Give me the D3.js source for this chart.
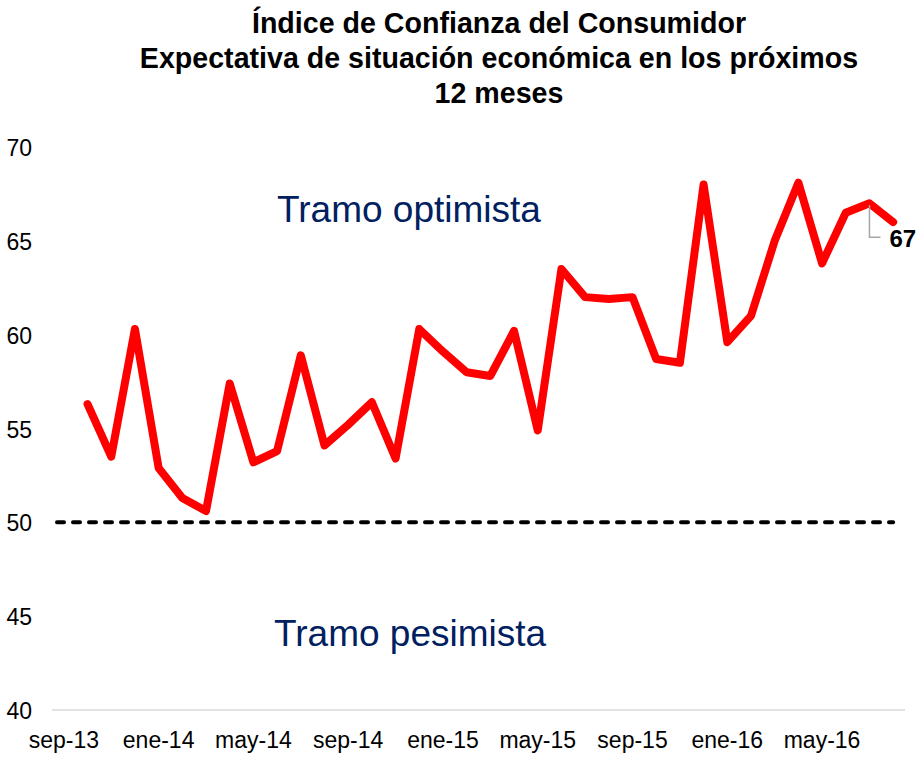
<!DOCTYPE html>
<html>
<head>
<meta charset="utf-8">
<script src="https://cdn.jsdelivr.net/npm/d3@7"></script>
<style>
  body { margin: 0; background: #fff; }
  text { font-family: "Liberation Sans", Arial, sans-serif; }
</style>
</head>
<body>
<div id="chart"></div>
<script>
// data: monthly index, oct-13 .. ago-16 (month 0 = sep-13)
var values = [56.3, 53.5, 60.3, 52.9, 51.3, 50.6, 57.4, 53.2, 53.8, 58.9, 54.1, 55.2,
              56.4, 53.4, 60.3, 59.1, 58.0, 57.8, 60.2, 54.9, 63.5, 62.0, 61.9, 62.0,
              58.7, 58.5, 68.0, 59.6, 61.0, 65.0, 68.1, 63.8, 66.5, 67.0, 66.0];
var firstMonth = 1; // oct-13
var tickMonths = [0, 4, 8, 12, 16, 20, 24, 28, 32];
var tickLabels = ["sep-13", "ene-14", "may-14", "sep-14", "ene-15", "may-15", "sep-15", "ene-16", "may-16"];
var yTicks = [40, 45, 50, 55, 60, 65, 70];
var threshold = 50;
var labelIndex = 33; // jul-16, shown as 67
var titleLines = ["Índice de Confianza del Consumidor",
                  "Expectativa de situación económica en los próximos",
                  "12 meses"];

var W = 918, H = 757;
var svg = d3.select("#chart").append("svg")
    .attr("width", W)
    .attr("height", H);

var x = d3.scaleLinear().domain([-0.5, 35.5]).range([52, 905]);
var y = d3.scaleLinear().domain([40, 70]).range([710, 147]);

// title
svg.append("g").selectAll("text").data(titleLines).enter().append("text")
    .attr("x", 499)
    .attr("y", function(d, i) { return 33 + i * 35; })
    .attr("text-anchor", "middle")
    .style("font-size", "28.6px")
    .style("font-weight", "bold")
    .attr("fill", "#000")
    .text(function(d) { return d; });

// y axis labels (no line)
svg.append("g").selectAll("text").data(yTicks).enter().append("text")
    .attr("x", 32)
    .attr("y", function(d) { return y(d) + 9; })
    .attr("text-anchor", "end")
    .style("font-size", "23px")
    .attr("fill", "#000")
    .text(function(d) { return d; });

// bottom axis line
svg.append("line")
    .attr("x1", x.range()[0]).attr("x2", x.range()[1])
    .attr("y1", y(40)).attr("y2", y(40))
    .attr("stroke", "#d9d9d9")
    .attr("stroke-width", 1.5);

// x labels
svg.append("g").selectAll("text").data(tickMonths).enter().append("text")
    .attr("x", function(d) { return x(d); })
    .attr("y", 748)
    .attr("text-anchor", "middle")
    .style("font-size", "23px")
    .attr("fill", "#000")
    .text(function(d, i) { return tickLabels[i]; });

// threshold line at 50
svg.append("line")
    .attr("x1", x.range()[0] + 5).attr("x2", x(firstMonth + values.length - 1))
    .attr("y1", y(threshold)).attr("y2", y(threshold))
    .attr("stroke", "#000")
    .attr("stroke-width", 4)
    .attr("stroke-linecap", "round")
    .attr("stroke-dasharray", "7,9");

// zone labels
svg.append("text")
    .attr("x", 277).attr("y", y(66))
    .style("font-size", "37px")
    .attr("fill", "#002060")
    .text("Tramo optimista");
svg.append("text")
    .attr("x", 274).attr("y", y(43.4))
    .style("font-size", "37px")
    .attr("fill", "#002060")
    .text("Tramo pesimista");

// the series
var line = d3.line()
    .x(function(d, i) { return x(firstMonth + i); })
    .y(function(d) { return y(d); });
svg.append("path")
    .datum(values)
    .attr("d", line)
    .attr("fill", "none")
    .attr("stroke", "#ff0000")
    .attr("stroke-width", 8)
    .attr("stroke-linejoin", "round")
    .attr("stroke-linecap", "round");

// data label with leader
var lx = x(firstMonth + labelIndex), ly = y(values[labelIndex]);
svg.append("path")
    .attr("d", "M" + lx + "," + (ly + 2) + "V" + (ly + 34) + "H" + (lx + 11))
    .attr("fill", "none")
    .attr("stroke", "#a6a6a6")
    .attr("stroke-width", 1.5);
svg.append("text")
    .attr("x", lx + 20).attr("y", ly + 44)
    .style("font-size", "24px")
    .style("font-weight", "bold")
    .attr("fill", "#000")
    .text(d3.format(".0f")(values[labelIndex]));
</script>
</body>
</html>
